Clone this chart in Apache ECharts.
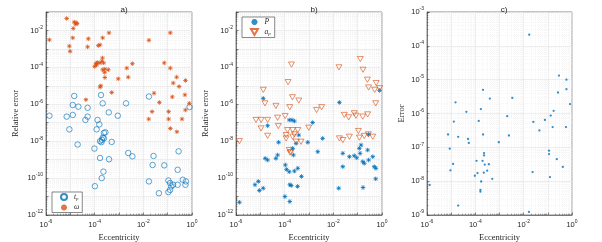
<!DOCTYPE html>
<html><head><meta charset="utf-8">
<script src="https://cdn.jsdelivr.net/npm/echarts@6/dist/echarts.min.js"></script>
<style>html,body{margin:0;padding:0;background:#fff}#c{width:602px;height:242px}</style>
</head><body><div id="c"></div>
<script>
// Data, as [log10(eccentricity), log10(error)]
const aTp = [
[-4.84,-5.55],[-3.74,-5.50],[-4.90,-6.04],[-4.67,-6.13],[-4.29,-6.19],[-3.67,-5.95],[-2.71,-5.95],[-1.77,-5.58],[-0.10,-6.15],
[-5.86,-6.62],[-5.15,-6.67],[-4.90,-6.58],[-4.29,-6.67],[-4.38,-6.85],[-3.88,-6.85],[-3.42,-6.44],[-3.05,-6.62],[-3.81,-7.09],[-3.92,-7.36],[-5.04,-7.36],[-3.56,-7.52],[-3.62,-7.55],[-3.67,-7.81],[-3.62,-7.85],[-3.70,-7.93],[-3.78,-8.0],[-3.72,-8.05],
[-3.30,-8.04],[-4.70,-8.18],[-4.01,-8.40],[-3.78,-8.91],[-3.41,-8.98],[-2.62,-8.64],[-2.45,-8.82],[-1.58,-8.80],[-1.62,-9.29],[-1.14,-9.31],[-0.55,-8.55],[-0.59,-9.55],[-3.64,-9.65],[-3.71,-10.0],[-3.99,-10.44],[-1.77,-10.18],[-1.36,-10.82],
[-0.97,-10.13],[-0.90,-10.27],[-0.85,-10.45],[-0.78,-10.36],[-0.90,-10.64],[-0.97,-10.76],[-0.59,-10.36],[-0.38,-10.09],[-0.27,-10.36],[-0.25,-10.18]
];
const aOmega = [
[-5.15,-1.35],[-4.77,-1.58],[-4.84,-1.55],[-4.72,-1.62],[-4.78,-1.66],[-4.88,-1.89],[-5.86,-2.51],[-4.90,-2.40],[-5.04,-2.85],[-5.01,-3.13],[-4.26,-2.45],[-4.29,-2.89],[-3.67,-2.40],[-3.41,-2.13],[-3.85,-2.82],[-3.78,-2.78],[-1.77,-2.53],[-0.89,-2.13],
[-3.68,-3.49],[-3.70,-3.67],[-3.63,-3.76],[-3.78,-3.76],[-3.89,-3.73],[-3.95,-3.80],[-4.00,-3.95],[-3.92,-3.87],[-3.58,-4.09],[-3.67,-4.13],[-3.59,-4.27],[-3.58,-4.55],[-3.44,-4.13],[-3.03,-4.62],[-2.68,-4.04],[-2.62,-4.53],[-2.45,-3.80],[-1.14,-3.76],[-0.89,-4.04],[-0.63,-4.53],[-0.27,-4.71],[-0.77,-4.85],[-0.53,-5.04],[-1.56,-5.40],[-0.81,-5.60],[-0.29,-5.49],[-3.30,-5.36],[-3.75,-5.00],[-3.78,-5.07],[-4.36,-5.75],[-1.34,-5.90],[-0.11,-5.95],
[-1.64,-6.40],[-0.96,-6.40],[-0.27,-6.31],[-1.78,-6.80],[-0.96,-6.80],[-0.41,-6.80],[-0.89,-7.31],[-0.62,-7.49]
];
const bP = [
[-4.88,-5.68],[-1.75,-5.90],[-0.10,-5.25],
[-3.81,-6.85],[-3.70,-6.85],[-3.60,-6.91],[-4.70,-7.16],[-2.85,-6.99],[-3.42,-7.67],[-2.44,-7.85],[-0.55,-7.63],
[-4.25,-8.06],[-3.53,-8.12],[-3.05,-8.06],
[-4.80,-8.93],[-4.70,-9.02],[-4.36,-8.93],[-4.29,-8.75],[-3.64,-8.75],[-3.67,-8.39],
[-3.97,-9.29],[-3.92,-9.53],[-3.81,-9.66],[-3.60,-9.62],[-3.46,-9.47],
[-2.64,-8.57],[-1.61,-8.66],[-1.34,-8.84],[-1.14,-8.79],[-1.04,-8.90],[-0.93,-8.39],[-0.86,-8.21],[-0.90,-8.66],[-0.79,-9.11],[-0.73,-9.20],[-0.59,-8.48],[-0.55,-9.02],[-0.38,-8.84],[-0.32,-9.38],[-0.25,-9.47],[-1.61,-9.38],
[-5.86,-11.31],[-3.31,-9.91],[-3.79,-10.36],[-3.73,-10.40],[-3.47,-10.45],[-3.99,-11.0],[-3.79,-11.27],[-5.08,-10.18],[-5.22,-10.36],[-5.04,-10.67],[-4.88,-10.55],[-1.78,-10.55],[-0.26,-10.04],[-0.78,-10.51]
];
const bAp = [
[-0.89,-3.55],[-1.77,-4.0],[-0.78,-4.13],[-3.72,-3.85],[-3.86,-4.8],[-0.60,-4.67],[-0.24,-4.85],[-0.10,-5.13],[-0.55,-5.09],[-0.30,-5.22],[-4.88,-5.22],[-4.81,-5.95],[-3.68,-5.62],[-3.42,-5.80],[-4.36,-6.09],[-3.79,-6.16],[-0.26,-5.95],[-2.69,-6.31],[-2.48,-6.16],
[-1.55,-6.58],[-1.37,-6.71],[-1.14,-6.49],[-1.07,-6.62],[-0.79,-6.67],[-0.59,-6.55],
[-5.18,-6.85],[-4.97,-6.85],[-4.70,-6.85],[-4.29,-6.73],[-3.98,-6.64],[-4.97,-7.31],[-4.26,-7.18],
[-3.88,-7.40],[-3.67,-7.40],[-3.46,-7.40],[-3.60,-7.63],[-3.94,-7.67],[-3.01,-7.27],[-4.70,-7.71],
[-1.75,-7.85],[-1.34,-7.76],[-0.93,-7.81],[-0.73,-7.72],[-0.38,-7.76],[-0.97,-7.45],[-0.56,-7.63],
[-5.86,-8.0],[-3.81,-8.48],[-3.74,-8.60],[-3.78,-8.62],[-3.94,-7.85],[-3.67,-7.76],[-3.33,-8.03],[-3.53,-8.03],[-1.61,-7.94]
];
const cErr = [
[-1.77,-3.67],[-0.54,-4.88],[-0.23,-5.0],[-0.23,-5.28],[-0.58,-5.38],[-0.76,-5.92],[-0.88,-6.06],[-1.12,-6.19],[-0.08,-5.72],[-4.82,-5.67],[-4.37,-5.95],[-3.68,-5.30],[-3.40,-5.56],[-3.77,-5.87],[-2.47,-5.54],[-2.68,-6.08],[-3.86,-6.22],[-4.89,-6.24],
[-5.13,-6.62],[-4.71,-6.69],[-4.30,-6.75],[-4.27,-6.87],[-5.06,-7.04],[-4.92,-7.49],[-5.03,-7.68],[-4.71,-8.72],[-5.89,-8.11],[-3.68,-6.62],[-3.64,-7.17],[-3.64,-7.24],[-3.95,-7.40],[-3.70,-7.40],[-3.61,-7.51],[-3.44,-7.50],[-3.51,-7.69],[-3.91,-7.76],[-4.02,-7.84],[-3.65,-7.75],[-3.76,-8.01],[-3.30,-7.93],[-3.79,-8.26],[-3.79,-8.31],[-3.03,-6.85],[-2.61,-6.65],[-1.60,-6.25],[-1.35,-6.50],[-0.80,-6.40],[-0.25,-6.40],[-0.95,-7.10],[-0.95,-7.20],[-0.63,-7.35],[-0.38,-7.58],[-1.63,-7.73],[-0.91,-7.88],[-1.78,-8.91]
];
const panelTitles = ['a)', 'b)', 'c)'];
const yNames = ['Relative error', 'Relative error', 'Error'];
const xName = 'Eccentricity';

const BLUE = '#0072BD', ORANGE = '#D95319', TXT = '#262626';
const SANS = 'Liberation Sans', SERIF = 'Liberation Serif';
const toPts = arr => arr.map(p => [Math.pow(10, p[0]), Math.pow(10, p[1])]);
const STAR = 'path://M5,0L5,10M0,5L10,5M1.5,1.5L8.5,8.5M1.5,8.5L8.5,1.5';
const TRI_DOWN = 'path://M0,0L10,0L5,8.7Z';

const rich = {
  b: {fontFamily: SANS, fontSize: 7.5, color: TXT},
  e: {fontFamily: SANS, fontSize: 5, color: TXT, padding: [0, 0, 6, 0]}
};
function fmt(everyOther) {
  return v => {
    const e = Math.round(Math.log10(v));
    if (everyOther && e % 2 !== 0) return '';
    return '{b|10}{e|' + e + '}';
  };
}
const grids = [
  {left: 46, top: 12, width: 146, height: 203},
  {left: 236, top: 12, width: 146, height: 203},
  {left: 427, top: 12, width: 145, height: 203}
].map(g => Object.assign(g, {show: true, borderColor: '#3a3a3a', borderWidth: 0.6, backgroundColor: 'transparent',
  containLabel: false, outerBoundsMode: 'none'}));

function xAx(i) {
  return {
    type: 'log', logBase: 10, gridIndex: i, min: 1e-6, max: 1, interval: 1,
    name: xName, nameLocation: 'middle', nameGap: 13,
    nameTextStyle: {fontFamily: SERIF, fontSize: 8.5, color: TXT},
    axisLine: {show: true, lineStyle: {color: '#3a3a3a', width: 0.6}},
    axisTick: {show: true, inside: true, length: 2.5, lineStyle: {color: '#3a3a3a', width: 0.6}},
    minorTick: {show: true, splitNumber: 9, length: 1.3, lineStyle: {color: '#3a3a3a', width: 0.5}},
    axisLabel: {formatter: fmt(true), rich: rich, margin: 4, showMinLabel: true, showMaxLabel: true},
    splitLine: {show: true, lineStyle: {color: '#e3e3e3', width: 0.6}},
    minorSplitLine: {show: true, lineStyle: {color: '#ececec', width: 0.5, type: [1, 1]}}
  };
}
function yAx(i, min, max, everyOther, nameGap) {
  return {
    type: 'log', logBase: 10, gridIndex: i, min: min, max: max, interval: 1,
    name: yNames[i], nameLocation: 'middle', nameGap: nameGap,
    nameTextStyle: {fontFamily: SERIF, fontSize: 8.5, color: TXT},
    axisLine: {show: true, lineStyle: {color: '#3a3a3a', width: 0.6}},
    axisTick: {show: true, inside: true, length: 2.5, lineStyle: {color: '#3a3a3a', width: 0.6}},
    minorTick: {show: true, splitNumber: 9, length: 1.3, lineStyle: {color: '#3a3a3a', width: 0.5}},
    axisLabel: {formatter: fmt(everyOther), rich: rich, margin: 3, showMinLabel: true, showMaxLabel: true},
    splitLine: {show: true, lineStyle: {color: '#e3e3e3', width: 0.6}},
    minorSplitLine: {show: true, lineStyle: {color: '#ececec', width: 0.5, type: [1, 1]}}
  };
}

const legendRich = {
  i: {fontFamily: SERIF, fontStyle: 'italic', fontSize: 7.5, color: TXT},
  s: {fontFamily: SERIF, fontStyle: 'italic', fontSize: 5, color: TXT, padding: [4, 0, 0, 0]}
};
const legendNames = {tp: '{i|t}{s|p}', omega: '{i|ω}', P: '{i|P}', ap: '{i|a}{s|p}'};

const option = {
  animation: false,
  backgroundColor: '#fff',
  title: panelTitles.map((t, i) => ({
    text: t, left: [119, 309, 499][i], top: 1, textAlign: 'center',
    textStyle: {fontFamily: SANS, fontSize: 8, fontWeight: 'normal', color: TXT}
  })),
  grid: grids,
  xAxis: [xAx(0), xAx(1), xAx(2)],
  yAxis: [yAx(0, 1e-12, 1e-1, true, 26), yAx(1, 1e-12, 1e-1, true, 26), yAx(2, 1e-9, 1e-3, false, 21)],
  legend: [
    {data: ['tp', 'omega'], orient: 'vertical', left: 52, top: 192, itemWidth: 10, itemHeight: 6, itemGap: 2,
     padding: [1, 3, 1, 8], borderColor: '#3a3a3a', borderWidth: 0.6, backgroundColor: '#fff',
     formatter: n => legendNames[n], textStyle: {rich: legendRich, fontSize: 7.5}},
    {data: ['P', 'ap'], orient: 'vertical', left: 242, top: 17, itemWidth: 10, itemHeight: 6, itemGap: 2,
     padding: [1, 4, 1, 8], borderColor: '#3a3a3a', borderWidth: 0.6, backgroundColor: '#fff',
     formatter: n => legendNames[n], textStyle: {rich: legendRich, fontSize: 7.5}}
  ],
  series: [
    {type: 'scatter', name: 'tp', xAxisIndex: 0, yAxisIndex: 0, data: toPts(aTp), symbol: 'circle', symbolSize: 5.5,
     itemStyle: {color: 'rgba(0,0,0,0)', borderColor: BLUE, borderWidth: 0.8}},
    {type: 'scatter', name: 'omega', xAxisIndex: 0, yAxisIndex: 0, data: toPts(aOmega), symbol: STAR, symbolSize: 4.5,
     itemStyle: {color: ORANGE, borderColor: ORANGE, borderWidth: 1}},
    {type: 'scatter', name: 'P', xAxisIndex: 1, yAxisIndex: 1, data: toPts(bP), symbol: STAR, symbolSize: 4.5,
     itemStyle: {color: BLUE, borderColor: BLUE, borderWidth: 1}},
    {type: 'scatter', name: 'ap', xAxisIndex: 1, yAxisIndex: 1, data: toPts(bAp), symbol: TRI_DOWN, symbolSize: [6, 5.2],
     itemStyle: {color: 'rgba(0,0,0,0)', borderColor: ORANGE, borderWidth: 0.8}},
    {type: 'scatter', name: 'err', xAxisIndex: 2, yAxisIndex: 2, data: toPts(cErr), symbol: 'circle', symbolSize: 2.3,
     itemStyle: {color: BLUE}}
  ]
};
const chart = echarts.init(document.getElementById('c'), null, {renderer: 'canvas'});
chart.setOption(option);
</script></body></html>
